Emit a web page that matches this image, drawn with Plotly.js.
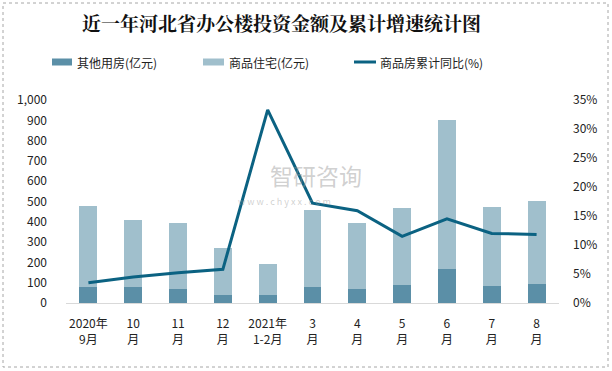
<!DOCTYPE html>
<html>
<head>
<meta charset="utf-8">
<script src="https://cdn.plot.ly/plotly-3.0.1.min.js"></script>
<style>html,body{margin:0;padding:0;background:#fff;}#chart{width:612px;height:371px;}</style>
</head>
<body>
<div id="chart"></div>
<script>
var categories = ["2020年<br>9月","10<br>月","11<br>月","12<br>月","2021年<br>1-2月","3<br>月","4<br>月","5<br>月","6<br>月","7<br>月","8<br>月"];
var otherValues = [80, 80, 69, 39, 39, 80, 69, 89, 167, 85, 95];
var residentialValues = [398, 329, 325, 232, 153, 380, 327, 379, 734, 388, 407];
var growthValues = [3.5, 4.5, 5.2, 5.8, 33.3, 17.2, 15.9, 11.5, 14.5, 12.0, 11.8];
var leftTicks = [0,100,200,300,400,500,600,700,800,900,1000];
var rightTicks = [0,5,10,15,20,25,30,35];

var cDark = "#5b8fa7", cLight = "#a0bfcc", cLine = "#0b6282";
var font = "Noto Sans CJK SC, sans-serif";

var traces = [
  {type:"bar", name:"其他用房(亿元)", x:categories, y:otherValues, marker:{color:cDark}, hoverinfo:"y"},
  {type:"bar", name:"商品住宅(亿元)", x:categories, y:residentialValues, marker:{color:cLight}, hoverinfo:"y"},
  {type:"scatter", mode:"lines", name:"商品房累计同比(%)", x:categories, y:growthValues, yaxis:"y2", line:{color:cLine, width:3}}
];

var W = 612, H = 371, L = 66, R = 53, T = 100, B = 68;
function px(x){ return (x - L) / (W - L - R); }
function py(y){ return (H - B - y) / (H - T - B); }

var shapes = [
  {type:"rect", xref:"paper", yref:"paper", x0:px(3), x1:px(608), y0:py(3), y1:py(367), line:{color:"#a6a6a6", width:1, dash:"dot"}, layer:"below"},
  {type:"rect", xref:"paper", yref:"paper", x0:px(52), x1:px(72), y0:py(65.5), y1:py(58.5), fillcolor:cDark, line:{width:0}},
  {type:"rect", xref:"paper", yref:"paper", x0:px(203), x1:px(224), y0:py(65.5), y1:py(58.5), fillcolor:cLight, line:{width:0}},
  {type:"line", xref:"paper", yref:"paper", x0:px(354), x1:px(376), y0:py(62), y1:py(62), line:{color:cLine, width:3}}
];

var annotations = [
  {xref:"paper", yref:"paper", x:px(80), y:py(22), text:"<b>近一年河北省办公楼投资金额及累计增速统计图</b>", showarrow:false, font:{family:"Noto Serif CJK SC, Noto Sans CJK SC, serif", size:19, color:"#111"}, xanchor:"left", yanchor:"middle"},
  {xref:"paper", yref:"paper", x:px(75), y:py(62), text:"其他用房(亿元)", showarrow:false, font:{family:font, size:12, color:"#222"}, xanchor:"left", yanchor:"middle"},
  {xref:"paper", yref:"paper", x:px(227), y:py(62), text:"商品住宅(亿元)", showarrow:false, font:{family:font, size:12, color:"#222"}, xanchor:"left", yanchor:"middle"},
  {xref:"paper", yref:"paper", x:px(378), y:py(62), text:"商品房累计同比(%)", showarrow:false, font:{family:font, size:12, color:"#222"}, xanchor:"left", yanchor:"middle"},
  {xref:"paper", yref:"paper", x:px(268), y:py(175), text:"智研咨询", showarrow:false, font:{family:font, size:23, color:"rgba(150,150,150,0.45)"}, xanchor:"left", yanchor:"middle"},
  {xref:"paper", yref:"paper", x:px(236), y:py(201), text:"w w w . c h y x x . c o m", showarrow:false, font:{family:font, size:9, color:"rgba(150,150,150,0.45)"}, xanchor:"left", yanchor:"middle"}
];

var layout = {
  width:W, height:H,
  margin:{l:L, r:R, t:T, b:B, pad:0},
  paper_bgcolor:"#fff", plot_bgcolor:"#fff",
  barmode:"stack", bargap:0.6,
  showlegend:false,
  font:{family:font, size:12, color:"#222"},
  xaxis:{type:"category", showline:true, linecolor:"#d9d9d9", linewidth:1, ticks:"", showgrid:false, zeroline:false, tickfont:{family:font, size:12, color:"#222"}, ticklabelstandoff:10},
  yaxis:{range:[0,1000], tickvals:leftTicks, ticktext:leftTicks.map(function(v){return v.toLocaleString("en-US");}), showgrid:false, zeroline:false, showline:false, ticks:"", tickfont:{family:font, size:12, color:"#222"}, ticklabelstandoff:18},
  yaxis2:{overlaying:"y", side:"right", range:[0,35], tickvals:rightTicks, ticktext:rightTicks.map(function(v){return v+"%";}), showgrid:false, zeroline:false, showline:false, ticks:"", tickfont:{family:font, size:12, color:"#222"}, ticklabelstandoff:13},
  shapes:shapes,
  annotations:annotations
};

Plotly.newPlot("chart", traces, layout, {displayModeBar:false, staticPlot:true});
</script>
</body>
</html>
